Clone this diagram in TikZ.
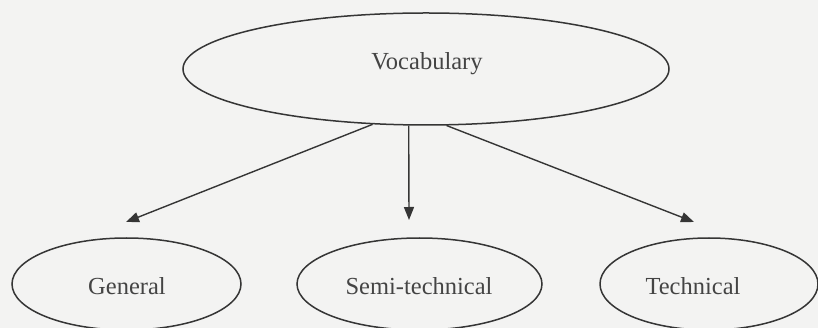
\documentclass[tikz,border=0pt]{standalone}
\usepackage{fontspec}
\setmainfont{Liberation Serif}
\usetikzlibrary{shapes.geometric,arrows.meta}
\definecolor{ink}{HTML}{353535}
\definecolor{paper}{HTML}{F3F3F2}
\definecolor{txt}{HTML}{444444}
\tikzset{
  bubble/.style={ellipse, draw=ink, line width=1.5pt, inner sep=0pt},
  lbl/.style={text=txt, font=\fontsize{24.5}{28}\selectfont},
  arr/.style={draw=ink, line width=1.4pt,
    -{Triangle[length=13pt,width=10pt]}}
}
\begin{document}
\begin{tikzpicture}[x=1pt,y=-1pt]
  % page and background
  \fill[paper] (0,0) rectangle (818,328);
  \useasboundingbox (0,0) rectangle (818,328);

  % root term
  \node[bubble, minimum width=486pt, minimum height=112pt] (voc) at (426,69) {};
  \node[lbl] (voclbl) at (427,64) {Vocabulary};

  % three categories
  \node[bubble, minimum width=229pt, minimum height=92pt] (gen) at (126.5,284) {};
  \node[lbl] (genlbl) at (127,286) {General};
  \node[bubble, minimum width=245pt, minimum height=92pt] (semi) at (419.5,284) {};
  \node[lbl] (semilbl) at (419,286) {Semi-technical};
  \node[bubble, minimum width=218pt, minimum height=92pt] (tech) at (709,284) {};
  \node[lbl] (techlbl) at (693,286) {Technical};

  % arrow tips stop short of the category ellipses
  \coordinate (genTip) at (126,222);
  \coordinate (semiTip) at (409,220);
  \coordinate (techTip) at (694,222);

  \draw[arr] (voc.226.5) -- (genTip);
  \draw[arr] (voc.253.1) -- (semiTip);
  \draw[arr] (voc.290.2) -- (techTip);
\end{tikzpicture}
\end{document}
